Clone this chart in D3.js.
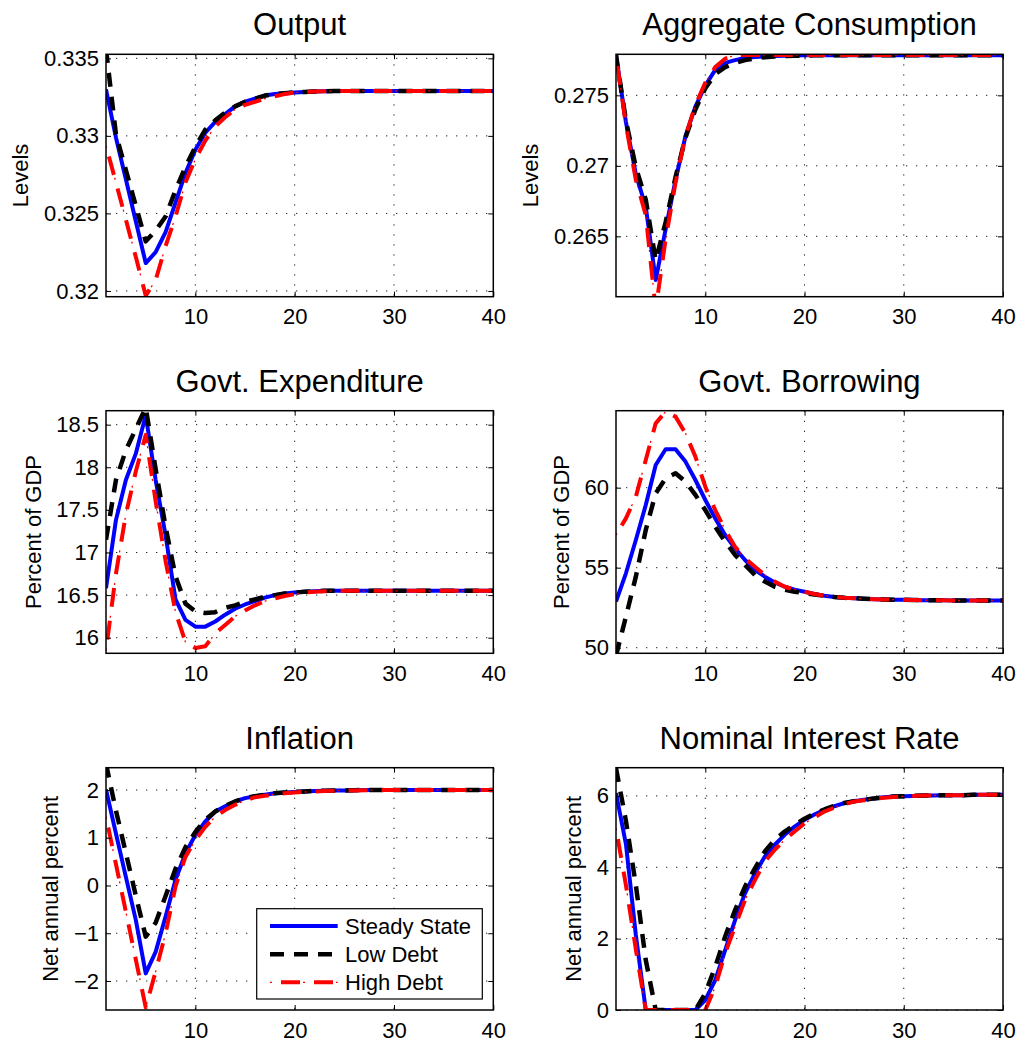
<!DOCTYPE html>
<html><head><meta charset="utf-8">
<script src="https://cdn.jsdelivr.net/npm/d3@7"></script>
<style>
body{margin:0;background:#fff}
text{font-family:"Liberation Sans",Arial,Helvetica,sans-serif;fill:#000}
</style>
</head><body>
<svg id="chart" width="1021" height="1042"></svg>
<script>
// ---------------- DATA ----------------
const periods = [1,2,3,4,5,6,7,8,9,10,11,12,13,14,15,16,17,18,19,20,21,22,23,24,25,26,27,28,29,30,31,32,33,34,35,36,37,38,39,40];
const seriesNames = ["Steady State","Low Debt","High Debt"];
const panelTitles = ["Output","Aggregate Consumption","Govt. Expenditure","Govt. Borrowing","Inflation","Nominal Interest Rate"];
const panelYLabels = ["Levels","Levels","Percent of GDP","Percent of GDP","Net annual percent","Net annual percent"];
const xTicks = [10,20,30,40];
const xTickLabels = ["10","20","30","40"];

// Output
const outputSteady = [0.3330,0.3299,0.3272,0.3245,0.3218,0.3225,0.3238,0.3257,0.3276,0.3291,0.3302,0.3309,0.3314,0.3319,0.3322,0.3324,0.3326,0.3327,0.33275,0.3328,0.33283,0.33286,0.33288,0.33289,0.3329,0.3329,0.3329,0.3329,0.3329,0.3329,0.3329,0.3329,0.3329,0.3329,0.3329,0.3329,0.3329,0.3329,0.3329,0.3329];
const outputLow = [0.3356,0.3301,0.3278,0.3255,0.3232,0.3239,0.3248,0.3265,0.3280,0.3293,0.3304,0.3310,0.3315,0.3319,0.3322,0.3324,0.3326,0.3327,0.33275,0.3328,0.33283,0.33286,0.33288,0.33289,0.3329,0.3329,0.3329,0.3329,0.3329,0.3329,0.3329,0.3329,0.3329,0.3329,0.3329,0.3329,0.3329,0.3329,0.3329,0.3329];
const outputHigh = [0.32935,0.3270,0.3246,0.3222,0.3197,0.3207,0.3229,0.3248,0.3270,0.3285,0.3297,0.3306,0.3312,0.3317,0.3320,0.3322,0.3324,0.33255,0.3327,0.3328,0.33283,0.33286,0.33288,0.33289,0.3329,0.3329,0.3329,0.3329,0.3329,0.3329,0.3329,0.3329,0.3329,0.3329,0.3329,0.3329,0.3329,0.3329,0.3329,0.3329];
const outputTicks = [0.32,0.325,0.33,0.335];
const outputTickLabels = ["0.32","0.325","0.33","0.335"];

// Aggregate consumption
const consSteady = [0.27785,0.2731,0.2694,0.2671,0.2619,0.2655,0.2690,0.2721,0.2742,0.2757,0.2768,0.2773,0.2775,0.27765,0.27772,0.27776,0.27779,0.27781,0.27783,0.27784,0.27785,0.27785,0.27785,0.27785,0.27785,0.27785,0.27785,0.27785,0.27785,0.27785,0.27785,0.27785,0.27785,0.27785,0.27785,0.27785,0.27785,0.27785,0.27785,0.27785];
const consLow = [0.27785,0.2732,0.2699,0.2676,0.2633,0.2660,0.2692,0.2720,0.2740,0.2755,0.2765,0.2770,0.2773,0.2775,0.27762,0.2777,0.27775,0.27778,0.2778,0.27782,0.27784,0.27785,0.27785,0.27785,0.27785,0.27785,0.27785,0.27785,0.27785,0.27785,0.27785,0.27785,0.27785,0.27785,0.27785,0.27785,0.27785,0.27785,0.27785,0.27785];
const consHigh = [0.27785,0.2729,0.2690,0.2665,0.2598,0.2648,0.2688,0.2721,0.2743,0.2759,0.2770,0.2776,0.27785,0.27786,0.27786,0.27786,0.27786,0.27786,0.27786,0.27786,0.27786,0.27786,0.27786,0.27786,0.27786,0.27786,0.27786,0.27786,0.27786,0.27786,0.27786,0.27786,0.27786,0.27786,0.27786,0.27786,0.27786,0.27786,0.27786,0.27786];
const consTicks = [0.265,0.27,0.275];
const consTickLabels = ["0.265","0.27","0.275"];

// Govt. expenditure
const expSteady = [16.58,17.38,17.85,18.16,18.61,17.85,17.20,16.45,16.21,16.13,16.13,16.19,16.27,16.34,16.39,16.43,16.47,16.50,16.52,16.53,16.54,16.545,16.55,16.55,16.55,16.55,16.55,16.55,16.55,16.55,16.55,16.55,16.55,16.55,16.55,16.55,16.55,16.55,16.55,16.55];
const expLow = [17.15,17.85,18.20,18.45,18.70,17.98,17.30,16.72,16.40,16.31,16.29,16.30,16.35,16.38,16.42,16.45,16.48,16.50,16.52,16.53,16.54,16.545,16.55,16.55,16.55,16.55,16.55,16.55,16.55,16.55,16.55,16.55,16.55,16.55,16.55,16.55,16.55,16.55,16.55,16.55];
const expHigh = [15.85,16.75,17.45,17.95,18.38,17.60,16.90,16.30,15.95,15.88,15.90,16.05,16.15,16.25,16.32,16.38,16.43,16.46,16.49,16.51,16.53,16.54,16.545,16.55,16.55,16.55,16.55,16.55,16.55,16.55,16.55,16.55,16.55,16.55,16.55,16.55,16.55,16.55,16.55,16.55];
const expTicks = [16,16.5,17,17.5,18,18.5];
const expTickLabels = ["16","16.5","17","17.5","18","18.5"];

// Govt. borrowing
const borSteady = [52.88,54.65,56.73,58.92,61.42,62.40,62.40,61.63,60.48,59.23,58.08,57.04,56.21,55.48,54.86,54.44,54.08,53.81,53.63,53.50,53.36,53.25,53.17,53.12,53.09,53.06,53.03,53.01,53.00,52.99,52.98,52.97,52.96,52.96,52.95,52.95,52.95,52.95,52.95,52.95];
const borLow = [49.50,51.94,54.44,57.36,59.65,60.58,60.90,60.38,59.55,58.60,57.56,56.63,55.80,55.17,54.54,54.13,53.81,53.62,53.50,53.42,53.32,53.24,53.17,53.12,53.09,53.06,53.03,53.01,53.00,52.99,52.98,52.97,52.96,52.96,52.95,52.95,52.95,52.95,52.95,52.95];
const borHigh = [57.04,58.08,59.44,61.73,64.02,64.75,64.44,63.40,61.94,60.06,58.60,57.36,56.31,55.58,55.06,54.54,54.13,53.81,53.64,53.50,53.36,53.25,53.17,53.12,53.09,53.06,53.03,53.01,53.00,52.99,52.98,52.97,52.96,52.96,52.95,52.95,52.95,52.95,52.95,52.95];
const borTicks = [50,55,60];
const borTickLabels = ["50","55","60"];

// Inflation
const infSteady = [2.01,1.09,0.18,-0.72,-1.84,-1.39,-0.65,0.12,0.67,1.06,1.34,1.55,1.66,1.76,1.83,1.87,1.90,1.93,1.95,1.96,1.97,1.98,1.985,1.99,1.99,1.995,2.0,2.0,2.0,2.0,2.0,2.0,2.0,2.0,2.0,2.0,2.0,2.0,2.0,2.0];
const infLow = [2.55,1.57,0.68,-0.21,-1.07,-0.78,-0.22,0.35,0.80,1.12,1.38,1.55,1.67,1.76,1.83,1.87,1.90,1.93,1.95,1.96,1.97,1.98,1.985,1.99,1.99,1.995,2.0,2.0,2.0,2.0,2.0,2.0,2.0,2.0,2.0,2.0,2.0,2.0,2.0,2.0];
const infHigh = [1.44,0.45,-0.55,-1.55,-2.55,-1.80,-1.00,-0.02,0.60,0.95,1.23,1.44,1.58,1.69,1.78,1.85,1.88,1.91,1.93,1.95,1.96,1.97,1.98,1.985,1.99,1.99,1.995,2.0,2.0,2.0,2.0,2.0,2.0,2.0,2.0,2.0,2.0,2.0,2.0,2.0];
const infTicks = [-2,-1,0,1,2];
const infTickLabels = ["\u22122","\u22121","0","1","2"];

// Nominal interest rate
const rateSteady = [6.08,4.65,2.10,0,0,0,0,0,0,0.28,0.84,1.68,2.52,3.27,3.83,4.30,4.63,4.91,5.14,5.33,5.48,5.61,5.71,5.80,5.85,5.89,5.93,5.96,5.98,5.99,6.00,6.01,6.01,6.02,6.02,6.02,6.03,6.03,6.03,6.03];
const rateLow = [6.78,5.30,3.50,1.40,0,0,0,0,0,0.47,1.21,2.06,2.80,3.46,3.97,4.44,4.77,5.00,5.19,5.36,5.50,5.62,5.72,5.80,5.85,5.89,5.93,5.96,5.98,5.99,6.00,6.01,6.01,6.02,6.02,6.02,6.03,6.03,6.03,6.03];
const rateHigh = [5.09,3.50,1.70,0,0,0,0,0,0,0,0.65,1.59,2.34,3.08,3.64,4.16,4.49,4.77,5.00,5.23,5.40,5.56,5.67,5.77,5.84,5.88,5.92,5.95,5.97,5.99,6.00,6.01,6.01,6.02,6.02,6.02,6.03,6.03,6.03,6.03];
const rateTicks = [0,2,4,6];
const rateTickLabels = ["0","2","4","6"];

// ---------------- LAYOUT ----------------
const colX = [[106,493.3],[616,1003]];
const rowY = [[54.3,296.7],[410.7,653.3],[767.7,1010]];
const panels = [
  {series:[outputSteady,outputLow,outputHigh], ticks:outputTicks, labels:outputTickLabels, domain:[0.31963,0.33526]},
  {series:[consSteady,consLow,consHigh], ticks:consTicks, labels:consTickLabels, domain:[0.26072,0.27791]},
  {series:[expSteady,expLow,expHigh], ticks:expTicks, labels:expTickLabels, domain:[15.817,18.664]},
  {series:[borSteady,borLow,borHigh], ticks:borTicks, labels:borTickLabels, domain:[49.65,64.81]},
  {series:[infSteady,infLow,infHigh], ticks:infTicks, labels:infTickLabels, domain:[-2.607,2.467]},
  {series:[rateSteady,rateLow,rateHigh], ticks:rateTicks, labels:rateTickLabels, domain:[0,6.79]}
];

const styles = [
  {color:"#0000ff", width:4, dash:null},
  {color:"#000000", width:4.5, dash:"14,10"},
  {color:"#ff0000", width:4, dash:"19,14", dashOffset:-11, thinDot:true}
];

const svg = d3.select("#chart");
const FONT = 22;

panels.forEach((p, i) => {
  const col = i % 2, row = Math.floor(i / 2);
  const [x0, x1] = colX[col];
  const [y0, y1] = rowY[row];
  const x = d3.scaleLinear().domain([1, 40]).range([x0, x1]);
  const y = d3.scaleLinear().domain(p.domain).range([y1, y0]);
  const g = svg.append("g");

  const clipId = "clip" + i;
  svg.append("clipPath").attr("id", clipId).append("rect")
    .attr("x", x0).attr("y", y0).attr("width", x1 - x0).attr("height", y1 - y0);

  // grid
  const grid = g.append("g").attr("stroke", "#222").attr("stroke-width", 1).attr("stroke-dasharray", "1.3,8.7");
  xTicks.filter(t => t < 40).forEach(t => {
    grid.append("line").attr("x1", x(t)).attr("x2", x(t)).attr("y1", y0).attr("y2", y1);
  });
  p.ticks.forEach(t => {
    grid.append("line").attr("x1", x0).attr("x2", x1).attr("y1", y(t)).attr("y2", y(t));
  });

  // lines
  const lineGen = d3.line().x((d, k) => x(periods[k])).y(d => y(d));
  const lines = g.append("g").attr("clip-path", `url(#${clipId})`);
  p.series.forEach((s, k) => {
    const st = styles[k];
    const path = lines.append("path").datum(s).attr("d", lineGen)
      .attr("fill", "none").attr("stroke", st.color).attr("stroke-width", st.width)
      .attr("stroke-linejoin", "round");
    if (st.dash) path.attr("stroke-dasharray", st.dash);
    if (st.dashOffset) path.attr("stroke-dashoffset", st.dashOffset);
    if (st.thinDot) {
      lines.append("path").datum(s).attr("d", lineGen)
        .attr("fill", "none").attr("stroke", st.color).attr("stroke-width", 1.3)
        .attr("stroke-dasharray", "2,31");
    }
  });

  // axes
  const axL = d3.axisLeft(y).tickValues(p.ticks).tickFormat((d, k) => p.labels[k]).tickSizeInner(-5).tickSizeOuter(0).tickPadding(7);
  const gl = g.append("g").attr("transform", `translate(${x0},0)`).call(axL);
  const axR = d3.axisRight(y).tickValues(p.ticks).tickFormat("").tickSizeInner(-5).tickSizeOuter(0);
  const gr = g.append("g").attr("transform", `translate(${x1},0)`).call(axR);
  const axB = d3.axisBottom(x).tickValues(xTicks).tickFormat((d, k) => xTickLabels[k]).tickSizeInner(-5).tickSizeOuter(0).tickPadding(12);
  const gb = g.append("g").attr("transform", `translate(0,${y1})`).call(axB);
  const axT = d3.axisTop(x).tickValues(xTicks).tickFormat("").tickSizeInner(-5).tickSizeOuter(0);
  const gt = g.append("g").attr("transform", `translate(0,${y0})`).call(axT);
  [gl, gr, gb, gt].forEach(a => {
    a.select(".domain").remove();
    a.selectAll("line").attr("stroke", "#000").attr("stroke-width", 1);
    a.selectAll("text").attr("font-size", FONT).attr("font-family", "Liberation Sans, Arial, sans-serif").attr("fill", "#000");
  });

  // frame
  g.append("rect").attr("x", x0).attr("y", y0).attr("width", x1 - x0).attr("height", y1 - y0)
    .attr("fill", "none").attr("stroke", "#000").attr("stroke-width", 1.5);

  // y label positioned from tick label widths
  let maxW = 0;
  gl.selectAll("text").each(function () { maxW = Math.max(maxW, this.getComputedTextLength()); });
  const labX = x0 - 7 - maxW - 23;
  g.append("text").attr("transform", `translate(${labX},${(y0 + y1) / 2}) rotate(-90)`)
    .attr("text-anchor", "middle").attr("dominant-baseline", "central")
    .attr("font-size", FONT).text(panelYLabels[i]);

  // title
  g.append("text").attr("x", (x0 + x1) / 2).attr("y", y0 - 19)
    .attr("text-anchor", "middle").attr("font-size", 31).text(panelTitles[i]);

  // legend in inflation panel
  if (i === 4) {
    const lg = g.append("g");
    lg.append("rect").attr("x", 256.7).attr("y", 908.7).attr("width", 225.6).attr("height", 90.3)
      .attr("fill", "#fff").attr("stroke", "#000").attr("stroke-width", 1.2);
    const rowsY = [926, 954.3, 982.3];
    seriesNames.forEach((name, k) => {
      const st = styles[k];
      const ln = lg.append("line").attr("x1", 270).attr("x2", 337.7).attr("y1", rowsY[k]).attr("y2", rowsY[k])
        .attr("stroke", st.color).attr("stroke-width", st.width);
      if (st.dash) ln.attr("stroke-dasharray", st.dash);
      if (st.dashOffset) ln.attr("stroke-dashoffset", st.dashOffset);
      if (st.thinDot) {
        lg.append("line").attr("x1", 270).attr("x2", 337.7).attr("y1", rowsY[k]).attr("y2", rowsY[k])
          .attr("stroke", st.color).attr("stroke-width", 1.3).attr("stroke-dasharray", "2,31");
      }
      lg.append("text").attr("x", 345).attr("y", rowsY[k]).attr("dominant-baseline", "central")
        .attr("font-size", FONT).text(name);
    });
  }
});
</script>
</body></html>
